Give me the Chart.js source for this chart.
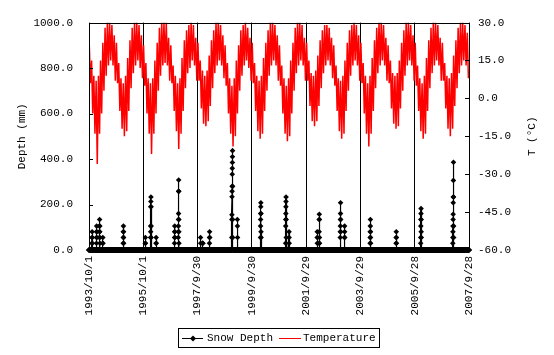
<!DOCTYPE html>
<html>
<head>
<meta charset="utf-8">
<script src="https://cdn.jsdelivr.net/npm/chart.js@4.4.1/dist/chart.umd.min.js"></script>
<style>
  body { margin: 0; background: #fff; }
  #wrap { width: 554px; height: 355px; }
</style>
</head>
<body>
<div id="wrap"><canvas id="snowChart" width="554" height="355"></canvas></div>
<script>
// tick labels on the date axis (every 730 days)
const tickDates = ['1993/10/1', '1995/10/1', '1997/9/30', '1999/9/30', '2001/9/29', '2003/9/29', '2005/9/28', '2007/9/28'];
const depthTicks = [0, 200, 400, 600, 800, 1000];
const tempTicks = [-60, -45, -30, -15, 0, 15, 30];

// snow depth (mm): each run starts at snowStart (day since 1993/10/1), one value per day
const snowStart = [40, 100, 140, 185, 460, 757, 828, 902, 1150, 1200, 1500, 1528, 1620, 1920, 1995, 2306, 2644, 2690, 3068, 3094, 3378, 3436, 3780, 4130, 4460, 4892];
const snowRuns = [
    [30, 55, 80, 55, 30],
    [30, 55, 80, 105, 80, 55],
    [55, 80, 105, 134, 105, 80, 55, 30],
    [30, 55, 30],
    [30, 55, 80, 105, 80, 55, 30],
    [30, 55, 30],
    [55, 80, 105, 190, 213, 233, 190, 105, 55],
    [30, 55, 30],
    [30, 55, 80, 105, 80, 55],
    [55, 80, 105, 134, 160, 258, 308, 258, 134, 80, 30],
    [55, 30],
    [30, 30, 30],
    [30, 55, 80, 55],
    [55, 134, 155, 234, 258, 280, 333, 359, 385, 410, 437, 280, 134, 55],
    [134, 105, 55],
    [55, 105, 134, 160, 190, 208, 160, 80, 55],
    [30, 105, 134, 160, 190, 213, 233, 134, 55],
    [80, 55, 30],
    [55, 80, 30],
    [30, 80, 134, 157, 134, 55, 30],
    [55, 80, 105, 134, 160, 208, 134, 80],
    [55, 105, 80, 55],
    [30, 55, 80, 105, 134, 80, 55, 30],
    [30, 55, 80, 55, 30],
    [30, 55, 105, 134, 160, 182, 134, 80, 55],
    [30, 55, 80, 105, 134, 157, 208, 233, 306, 386, 233, 105, 55]
];

// temperature (C): monthly upper and lower envelope, Oct 1993 .. Sep 2007
const tempHigh = [
    21, 15, 9, 7, 9, 15, 22, 28, 30, 30, 29, 25,
    22, 14, 8, 6, 9, 16, 23, 28, 30, 30, 29, 25,
    21, 14, 8, 6, 8, 15, 22, 28, 30, 30, 30, 24,
    21, 13, 9, 6, 8, 16, 23, 27, 29, 30, 29, 24,
    22, 15, 11, 9, 11, 17, 23, 27, 30, 30, 29, 25,
    21, 14, 8, 5, 8, 15, 21, 27, 29, 30, 28, 24,
    22, 14, 9, 7, 9, 16, 22, 27, 30, 30, 29, 25,
    21, 13, 8, 5, 8, 15, 22, 28, 30, 30, 29, 24,
    22, 15, 10, 9, 11, 17, 23, 27, 29, 29, 28, 24,
    21, 13, 8, 7, 9, 15, 22, 27, 29, 30, 29, 25,
    22, 14, 9, 6, 9, 16, 23, 28, 30, 30, 29, 24,
    21, 15, 10, 9, 10, 15, 22, 27, 30, 30, 29, 25,
    22, 13, 8, 6, 9, 16, 23, 28, 30, 30, 29, 24,
    22, 14, 9, 8, 10, 17, 23, 28, 30, 30, 29, 26
];
const tempLow = [
    6, -6, -14, -26, -14, -6, 3, 9, 13, 15, 13, 7,
    6, -5, -12, -15, -13, -5, 4, 10, 13, 15, 12, 8,
    5, -6, -14, -22, -14, -6, 3, 9, 13, 14, 13, 7,
    6, -5, -13, -20, -14, -5, 4, 10, 12, 15, 13, 7,
    7, -4, -10, -11, -9, -3, 4, 10, 13, 15, 13, 8,
    5, -6, -14, -19, -15, -6, 3, 9, 13, 15, 12, 7,
    6, -5, -13, -16, -14, -5, 3, 9, 13, 15, 13, 7,
    5, -6, -14, -17, -15, -6, 3, 10, 13, 15, 13, 7,
    7, -3, -9, -11, -9, -3, 4, 10, 13, 15, 13, 8,
    5, -5, -13, -16, -14, -5, 3, 9, 13, 15, 13, 7,
    6, -6, -14, -19, -14, -5, 4, 10, 13, 15, 13, 7,
    6, -4, -10, -12, -11, -4, 3, 9, 13, 15, 13, 7,
    5, -5, -13, -16, -14, -5, 4, 10, 13, 15, 13, 7,
    7, -4, -12, -15, -12, -3, 4, 10, 13, 15, 13, 8
];

const FONT = 'Liberation Mono';

function dayIndex(y, m, d) {
    return Math.round((Date.UTC(y, m - 1, d) - Date.UTC(1993, 9, 1)) / 864e5);
}
function parseDate(s) {
    const p = s.split('/').map(Number);
    return dayIndex(p[0], p[1], p[2]);
}
const tickDays = tickDates.map(parseDate);
const lastDay = tickDays[tickDays.length - 1];

// daily snow series, zero outside the runs
const snowByDay = new Map();
snowStart.forEach((start, i) => {
    snowRuns[i].forEach((v, k) => snowByDay.set(start + k, v));
});
const snowData = [];
for (let d = 0; d <= lastDay; d++) {
    snowData.push({ x: d, y: snowByDay.get(d) || 0 });
}

// temperature: alternate upper / lower value twice a month
const tempData = [];
tempHigh.forEach((hi, m) => {
    const start = dayIndex(1993, 10 + m, 1);
    tempData.push({ x: start + 4, y: hi });
    tempData.push({ x: start + 19, y: tempLow[m] });
});

// frame, inward ticks, axis titles and boxed legend
const decor = {
    id: 'decor',
    afterDraw(chart) {
        const ctx = chart.ctx;
        const a = chart.chartArea;
        const yL = chart.scales.y, yR = chart.scales.yT;
        ctx.save();
        ctx.strokeStyle = '#000';
        ctx.lineWidth = 1;
        ctx.strokeRect(Math.round(a.left) + 0.5, Math.round(a.top) + 0.5, Math.round(a.right - a.left), Math.round(a.bottom - a.top));
        ctx.beginPath();
        depthTicks.forEach(v => {
            const y = Math.round(yL.getPixelForValue(v)) + 0.5;
            ctx.moveTo(a.left, y); ctx.lineTo(a.left + 4, y);
        });
        tempTicks.forEach(v => {
            const y = Math.round(yR.getPixelForValue(v)) + 0.5;
            ctx.moveTo(a.right - 4, y); ctx.lineTo(a.right, y);
        });
        ctx.stroke();

        ctx.fillStyle = '#000';
        ctx.font = '11px "' + FONT + '"';
        ctx.textAlign = 'center';
        ctx.textBaseline = 'middle';
        const midY = (a.top + a.bottom) / 2;
        [[22, 'Depth (mm)'], [532, 'T (°C)']].forEach(([x, t]) => {
            ctx.save();
            ctx.translate(x, midY);
            ctx.rotate(-Math.PI / 2);
            ctx.fillText(t, 0, 0);
            ctx.restore();
        });

        // legend
        ctx.strokeRect(178.5, 328.5, 201, 19);
        const ly = 338.5;
        ctx.beginPath();
        ctx.moveTo(182, ly); ctx.lineTo(203, ly);
        ctx.stroke();
        ctx.beginPath();
        ctx.moveTo(193, ly - 3); ctx.lineTo(196, ly); ctx.lineTo(193, ly + 3); ctx.lineTo(190, ly);
        ctx.closePath();
        ctx.fill();
        ctx.strokeStyle = '#ff0000';
        ctx.beginPath();
        ctx.moveTo(279, ly); ctx.lineTo(301, ly);
        ctx.stroke();
        ctx.textAlign = 'left';
        ctx.fillText(chart.data.datasets[0].label, 207, ly);
        ctx.fillText(chart.data.datasets[1].label, 303, ly);
        ctx.restore();
    }
};

const config = {
    type: 'line',
    data: {
        datasets: [
            {
                label: 'Snow Depth',
                data: snowData,
                yAxisID: 'y',
                borderColor: '#000',
                backgroundColor: '#000',
                borderWidth: 1.2,
                pointStyle: 'rectRot',
                pointRadius: 2.8,
                pointBorderWidth: 0,
                clip: false
            },
            {
                label: 'Temperature',
                data: tempData,
                yAxisID: 'yT',
                borderColor: '#ff0000',
                borderWidth: 1.5,
                pointRadius: 0
            }
        ]
    },
    options: {
        responsive: false,
        animation: false,
        layout: { padding: { top: 21, left: 0, right: 0, bottom: 0 } },
        plugins: {
            legend: { display: false },
            tooltip: { enabled: false }
        },
        scales: {
            x: {
                type: 'linear',
                min: 0,
                max: lastDay,
                afterBuildTicks: scale => {
                    scale.ticks = tickDays.map(v => ({ value: v }));
                },
                afterFit: scale => { scale.height = 105; },
                grid: { color: '#000', lineWidth: 1, drawTicks: false },
                border: { display: false },
                ticks: {
                    callback: (v, i) => tickDates[i],
                    minRotation: 90,
                    maxRotation: 90,
                    padding: 6,
                    color: '#000',
                    font: { family: FONT, size: 11 }
                }
            },
            y: {
                position: 'left',
                min: 0,
                max: 1000,
                afterBuildTicks: scale => {
                    scale.ticks = depthTicks.map(v => ({ value: v }));
                },
                afterFit: scale => { scale.width = 89; },
                grid: { display: false, drawTicks: false },
                border: { display: false },
                ticks: {
                    callback: v => v.toFixed(1),
                    padding: 16,
                    color: '#000',
                    font: { family: FONT, size: 11 }
                }
            },
            yT: {
                position: 'right',
                min: -60,
                max: 30,
                afterBuildTicks: scale => {
                    scale.ticks = tempTicks.map(v => ({ value: v }));
                },
                afterFit: scale => { scale.width = 85; },
                grid: { display: false, drawTicks: false },
                border: { display: false },
                ticks: {
                    callback: v => v.toFixed(1),
                    padding: 9,
                    color: '#000',
                    font: { family: FONT, size: 11 }
                }
            }
        }
    },
    plugins: [decor]
};

const snowChart = new Chart(document.getElementById('snowChart'), config);
</script>
</body>
</html>
